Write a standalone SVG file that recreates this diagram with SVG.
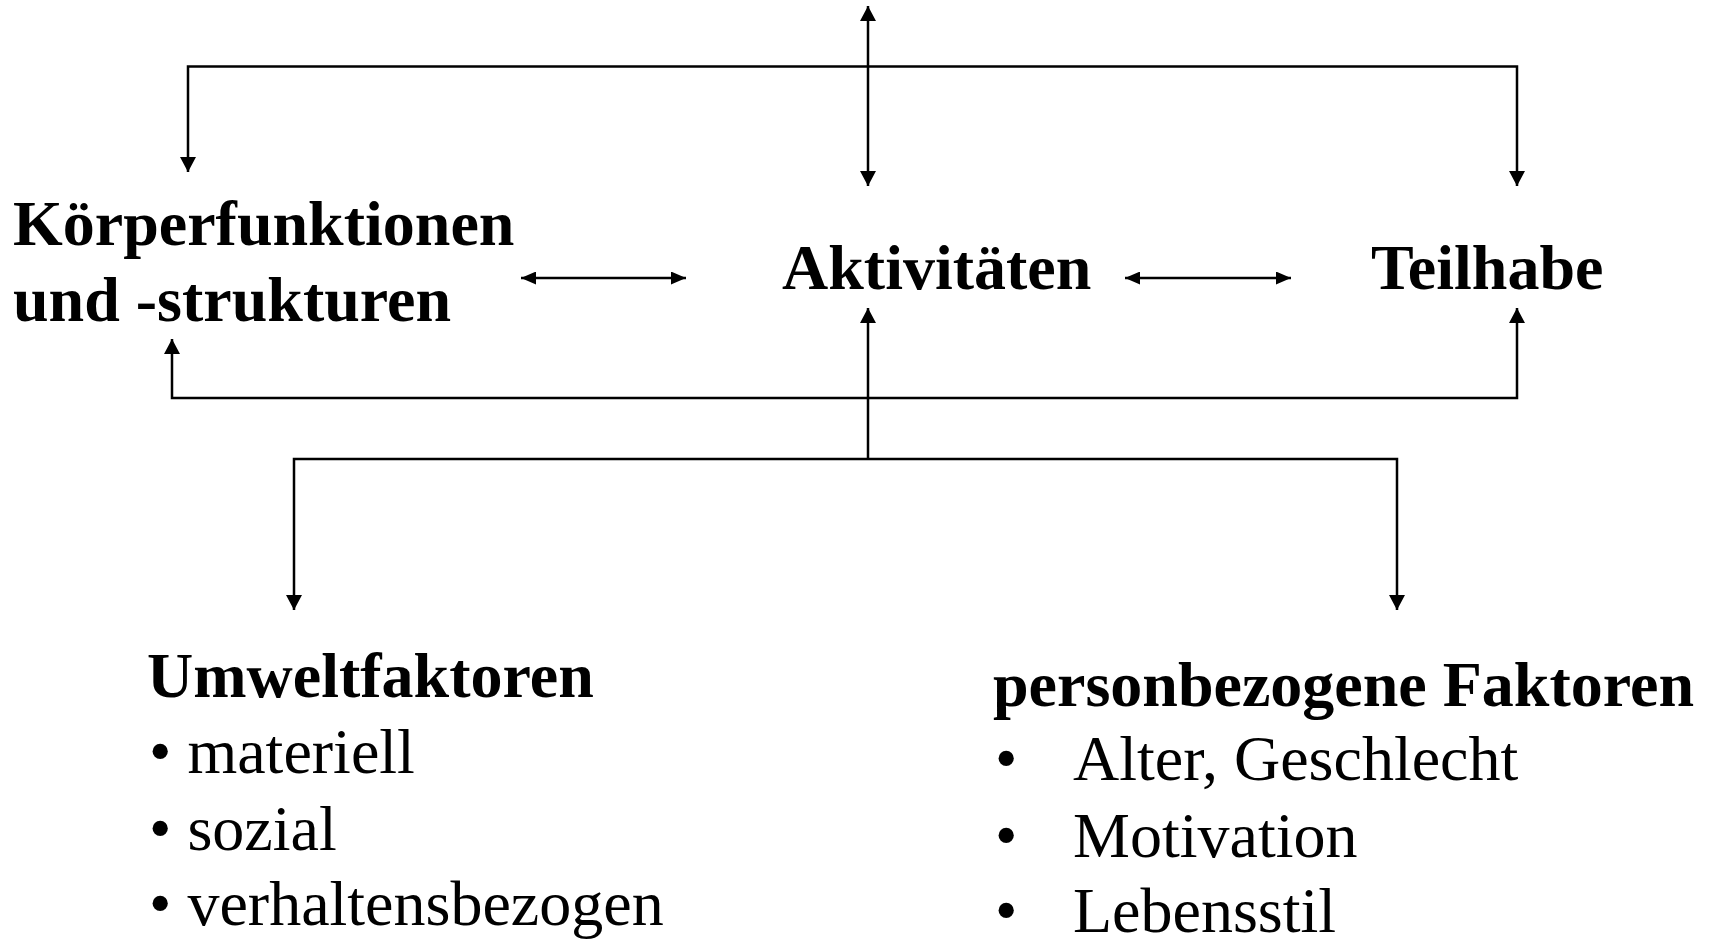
<svg xmlns="http://www.w3.org/2000/svg" width="1711" height="940" viewBox="0 0 1711 940">
<style>
  text { font-family: "Liberation Serif", "Times New Roman", serif; font-size: 64px; fill: #000; }
  .b { font-weight: bold; }
  .c { fill: none; stroke: #000; stroke-width: 2.5; }
</style>
<defs>
  <marker id="ah" markerUnits="userSpaceOnUse" markerWidth="16" markerHeight="16" refX="15" refY="8" orient="auto-start-reverse">
    <path d="M0,0 L15,8 L0,16 z" fill="#000"/>
  </marker>
  <marker id="ahs" markerUnits="userSpaceOnUse" markerWidth="16" markerHeight="13" refX="15" refY="6.5" orient="auto-start-reverse">
    <path d="M0,0 L15,6.5 L0,13 z" fill="#000"/>
  </marker>
</defs>
<rect width="1711" height="940" fill="#fff"/>
<g id="connectors">
  <line class="c" x1="868" y1="6" x2="868" y2="186" marker-start="url(#ah)" marker-end="url(#ah)"/>
  <polyline class="c" points="188,172 188,66.5 1517,66.5 1517,186" marker-start="url(#ah)" marker-end="url(#ah)"/>
  <line class="c" x1="521" y1="278" x2="686" y2="278" marker-start="url(#ahs)" marker-end="url(#ahs)"/>
  <line class="c" x1="1125" y1="278" x2="1291" y2="278" marker-start="url(#ahs)" marker-end="url(#ahs)"/>
  <polyline class="c" points="172,339 172,398 1517,398 1517,308" marker-start="url(#ah)" marker-end="url(#ah)"/>
  <line class="c" x1="868" y1="459" x2="868" y2="308" marker-end="url(#ah)"/>
  <polyline class="c" points="294,610 294,459 1397,459 1397,610" marker-start="url(#ah)" marker-end="url(#ah)"/>
</g>
<g id="koerperfunktionen">
  <text class="b" x="13" y="245">Körperfunktionen</text>
  <text class="b" x="13" y="321">und -strukturen</text>
</g>
<g id="aktivitaeten">
  <text class="b" x="782" y="289">Aktivitäten</text>
</g>
<g id="teilhabe">
  <text class="b" x="1371" y="289">Teilhabe</text>
</g>
<g id="umweltfaktoren">
  <text class="b" x="147" y="697">Umweltfaktoren</text>
  <text x="149" y="773">• materiell</text>
  <text x="149" y="850">• sozial</text>
  <text x="149" y="925">• verhaltensbezogen</text>
</g>
<g id="personbezogene-faktoren">
  <text class="b" x="993" y="706">personbezogene Faktoren</text>
  <text x="995" y="780">•</text>
  <text x="1073" y="780">Alter, Geschlecht</text>
  <text x="995" y="857">•</text>
  <text x="1073" y="857">Motivation</text>
  <text x="995" y="932">•</text>
  <text x="1073" y="932">Lebensstil</text>
</g>
</svg>
